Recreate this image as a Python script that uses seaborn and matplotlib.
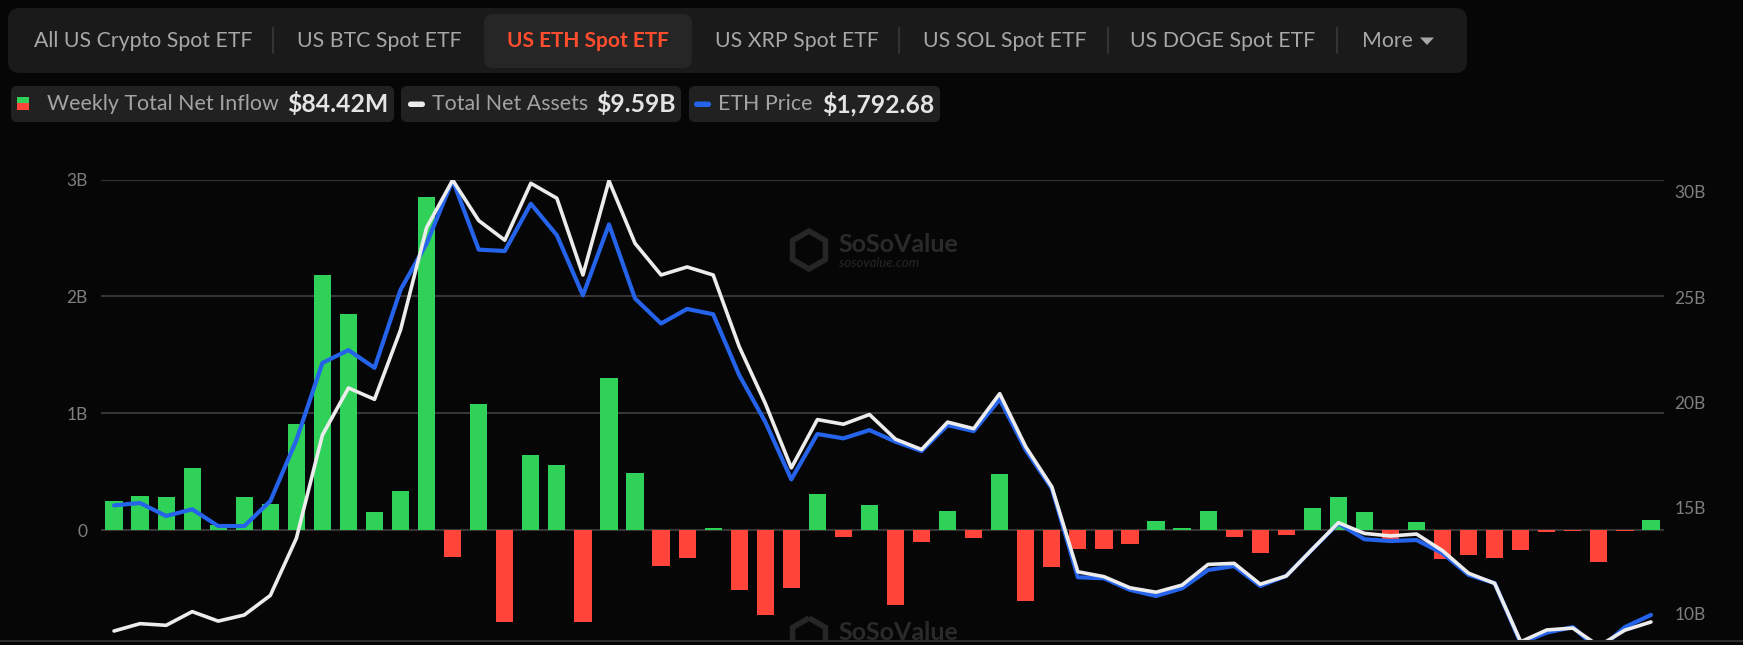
import matplotlib
matplotlib.use("Agg")
import matplotlib.pyplot as plt
from matplotlib.patches import FancyBboxPatch, Rectangle, RegularPolygon, Polygon
from matplotlib.lines import Line2D
import seaborn as sns
import numpy as np
import pandas as pd

# ---- data ----
weeks = list(range(60))

net_inflow_b = [0.25, 0.29, 0.28, 0.53, 0.04, 0.28, 0.22, 0.91, 2.18, 1.85,
                0.15, 0.33, 2.85, -0.23, 1.08, -0.79, 0.64, 0.56, -0.79, 1.30,
                0.49, -0.31, -0.24, 0.02, -0.51, -0.73, -0.50, 0.31, -0.06, 0.21,
                -0.64, -0.10, 0.16, -0.07, 0.48, -0.61, -0.32, -0.16, -0.16, -0.12,
                0.08, 0.02, 0.16, -0.06, -0.20, -0.04, 0.19, 0.28, 0.15, -0.08,
                0.07, -0.25, -0.21, -0.24, -0.17, -0.014, -0.009, -0.27, -0.011, 0.0844]

total_net_assets_b = [9.16, 9.51, 9.43, 10.08, 9.63, 9.92, 10.85, 13.56, 18.46, 20.69,
                      20.15, 23.45, 28.30, 30.55, 28.63, 27.70, 30.40, 29.69, 26.05, 30.52,
                      27.55, 26.05, 26.43, 26.05, 22.65, 19.96, 16.90, 19.19, 18.97, 19.43,
                      18.26, 17.77, 19.07, 18.76, 20.42, 17.90, 16.00, 11.97, 11.74, 11.21,
                      11.00, 11.34, 12.32, 12.37, 11.38, 11.77, 13.04, 14.30, 13.79, 13.67,
                      13.76, 12.97, 11.90, 11.42, 8.65, 9.21, 9.30, 8.45, 9.20, 9.59]

eth_price = [2349, 2361, 2295, 2329, 2244, 2244, 2371, 2680, 3072, 3137,
             3047, 3444, 3678, 4000, 3647, 3640, 3880, 3720, 3415, 3775,
             3399, 3272, 3346, 3319, 3010, 2773, 2481, 2711, 2689, 2731,
             2672, 2625, 2756, 2726, 2887, 2630, 2435, 1984, 1979, 1920,
             1889, 1928, 2021, 2041, 1940, 1991, 2126, 2258, 2177, 2168,
             2173, 2106, 1996, 1954, 1650, 1703, 1731, 1615, 1731, 1792.68]

tabs = ["All US Crypto Spot ETF", "US BTC Spot ETF", "US ETH Spot ETF",
        "US XRP Spot ETF", "US SOL Spot ETF", "US DOGE Spot ETF", "More"]
active_tab = "US ETH Spot ETF"

left_ticks = [0, 1, 2, 3]
left_tick_labels = ["0", "1B", "2B", "3B"]
right_ticks = [10, 15, 20, 25, 30]
right_tick_labels = ["10B", "15B", "20B", "25B", "30B"]

legend_items = [("Weekly Total Net Inflow", "$84.42M"),
                ("Total Net Assets", "$9.59B"),
                ("ETH Price", "$1,792.68")]

# ---- style ----
W, H, DPI = 1743, 645, 100
BG = "#060606"
BAR_BG = "#1a1a1a"
ACTIVE_BG = "#262626"
CHIP_BG = "#212121"
GREEN = "#30d158"
RED = "#ff453a"
BLUE = "#2563eb"
WHITE = "#ececec"
GRID = "#353535"
TICK = "#7f7f7f"
TAB_TXT = "#a8a8a8"
ORANGE = "#ff4d2e"

sns.set_theme(style="dark")
plt.rcParams["font.family"] = ["Lato", "DejaVu Sans"]


def P(x, y):
    # pixel position (from top-left) -> inches for dpi_scale_trans
    return (x / DPI, (H - y) / DPI)


fig = plt.figure(figsize=(W / DPI, H / DPI), dpi=DPI, facecolor=BG)
tr = fig.dpi_scale_trans


def rbox(x0, y0, x1, y1, color, r, z=1):
    p = FancyBboxPatch(P(x0, y1), (x1 - x0) / DPI, (y1 - y0) / DPI,
                       boxstyle=f"round,pad=0,rounding_size={r / DPI}",
                       transform=tr, facecolor=color, edgecolor="none", zorder=z)
    fig.add_artist(p)


# ---- tab bar ----
rbox(8, 8, 1467, 73, BAR_BG, 12)
rbox(484, 14, 692, 68, ACTIVE_BG, 9, z=2)
tab_centers = [143, 379, 588, 797, 1005, 1223, 1388]
for name, cx in zip(tabs, tab_centers):
    if name == active_tab:
        fig.text(*P(cx, 41), name, transform=tr, ha="center", va="center",
                 fontsize=15, color=ORANGE, fontweight="bold", zorder=3)
    elif name == "More":
        fig.text(*P(1362, 41), name, transform=tr, ha="left", va="center",
                 fontsize=15.3, color=TAB_TXT, zorder=3)
    else:
        fig.text(*P(cx, 41), name, transform=tr, ha="center", va="center",
                 fontsize=15.3, color=TAB_TXT, zorder=3)
fig.add_artist(Polygon([P(1420, 37.5), P(1434, 37.5), P(1427, 45)], closed=True,
                       transform=tr, facecolor=TAB_TXT, edgecolor="none", zorder=3))
for sx in [273, 899, 1108, 1337]:
    fig.add_artist(Line2D([sx / DPI, sx / DPI], [(H - 28) / DPI, (H - 53) / DPI],
                          transform=tr, color="#333333", lw=1.5, zorder=3))

# ---- legend chips ----
chips = [(11, 394), (401, 681), (689, 940)]
label_x = [47, 432, 718]
value_x = [287, 596, 822]
for (x0, x1), lx, vx, (lab, val) in zip(chips, label_x, value_x, legend_items):
    rbox(x0, 86, x1, 122, CHIP_BG, 6)
    fig.text(*P(lx, 104), lab, transform=tr, ha="left", va="center",
             fontsize=15.4, color="#a3a3a3", zorder=3)
    fig.text(*P(vx, 104), val, transform=tr, ha="left", va="center",
             fontsize=17.8, color="#e4e4e4", fontweight="bold", zorder=3)
fig.add_artist(Rectangle(P(17, 103.5), 12 / DPI, 6.5 / DPI, transform=tr,
                         facecolor=GREEN, edgecolor="none", zorder=3))
fig.add_artist(Rectangle(P(17, 110), 12 / DPI, 6.5 / DPI, transform=tr,
                         facecolor=RED, edgecolor="none", zorder=3))
for px0, col in [(408, WHITE), (694, BLUE)]:
    fig.add_artist(FancyBboxPatch(P(px0, 107), 17 / DPI, 5.5 / DPI,
                                  boxstyle=f"round,pad=0,rounding_size={2.7 / DPI}",
                                  transform=tr, facecolor=col, edgecolor="none", zorder=3))

# ---- watermarks (behind the plot) ----
for cy in [245, 632]:
    fig.add_artist(RegularPolygon(P(809, cy + 5), numVertices=6, radius=19 / DPI,
                                  orientation=0, transform=tr, facecolor="none",
                                  edgecolor="#262626", lw=4, zorder=-2))
    fig.text(*P(838, cy), "SoSoValue", transform=tr, ha="left", va="center",
             fontsize=18, fontweight="bold", color="#2a2a2a", zorder=-2)
fig.text(*P(839, 263), "sosovalue.com", transform=tr, ha="left", va="center",
         fontsize=9.5, style="italic", color="#262626", zorder=-2)
fig.add_artist(Rectangle(P(0, 645), W / DPI, 4.5 / DPI, transform=tr,
                         facecolor=BG, edgecolor="none", zorder=-1))
fig.add_artist(Line2D([0, W / DPI], [(H - 641) / DPI] * 2, transform=tr,
                      color="#2c2c2c", lw=1.5, zorder=5))

# ---- chart ----
top_px, bot_px = 179.7, 640.5
ax = fig.add_axes([101 / W, (H - bot_px) / H, (1664 - 101) / W, (bot_px - top_px) / H])
ax.set_facecolor("none")

df = pd.DataFrame({"week": weeks, "flow": net_inflow_b})
df["dir"] = np.where(df["flow"] >= 0, "in", "out")
sns.barplot(data=df, x="week", y="flow", hue="dir", palette={"in": GREEN, "out": RED},
            dodge=False, width=0.66, saturation=1, legend=False, ax=ax, zorder=2,
            edgecolor="none", linewidth=0)

ax.set_xlim(-0.5, 59.5)
ax.set_ylim(-(bot_px - 530) / 116.78, 3)
ax.set_xticks([])
ax.set_yticks(left_ticks)
ax.set_yticklabels(left_tick_labels)
ax.set_xlabel("")
ax.set_ylabel("")
ax.yaxis.grid(True, color=GRID, lw=1.5)
ax.xaxis.grid(False)
ax.set_axisbelow(True)
ax.tick_params(axis="y", length=0, pad=9.5, labelsize=12.5, labelcolor=TICK)
for s in ax.spines.values():
    s.set_visible(False)

# ETH price on a hidden axis
ax3 = ax.twinx()
sns.lineplot(x=weeks, y=eth_price, ax=ax3, color=BLUE, lw=3, zorder=3)
ax3.set_ylim(1663, 4002)
ax3.axis("off")

# total net assets on the right axis
ax2 = ax.twinx()
sns.lineplot(x=weeks, y=total_net_assets_b, ax=ax2, color=WHITE, lw=2.6, zorder=4)
ax2.set_ylim(8.71, 30.57)
ax2.set_yticks(right_ticks)
ax2.set_yticklabels(right_tick_labels)
ax2.set_ylabel("")
ax2.tick_params(axis="y", length=0, pad=7.5, labelsize=12.5, labelcolor=TICK)
ax2.grid(False)
for s in ax2.spines.values():
    s.set_visible(False)
ax.set_xlim(-0.5, 59.5)

fig.savefig("out.png", dpi=DPI, facecolor=BG)
